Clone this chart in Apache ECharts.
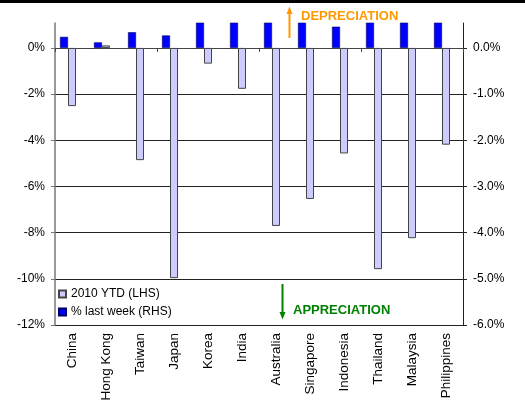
<!DOCTYPE html>
<html>
<head>
<meta charset="utf-8">
<script src="https://cdn.jsdelivr.net/npm/echarts@6/dist/echarts.min.js"></script>
<style>
  html, body { margin: 0; padding: 0; background: #fff; }
  #chart { width: 525px; height: 407px; }
</style>
</head>
<body>
<div id="chart"></div>
<script>
// Asian currencies against the USD, % change
const categories = ['China', 'Hong Kong', 'Taiwan', 'Japan', 'Korea', 'India',
  'Australia', 'Singapore', 'Indonesia', 'Thailand', 'Malaysia', 'Philippines'];
const ytd2010 = [-2.52, 0.11, -4.86, -9.97, -0.68, -1.77, -7.71, -6.54, -4.57, -9.58, -8.24, -4.19];
const lastWeek = [0.24, 0.12, 0.34, 0.27, 0.9, 1.1, 0.8, 1.2, 0.46, 0.7, 1.0, 0.85];
const lhsTicks = [-12, -10, -8, -6, -4, -2, 0];
const rhsTicks = [-6, -5, -4, -3, -2, -1, 0];
const seriesNames = ['2010 YTD (LHS)', '% last week (RHS)'];

const FONT = '"Liberation Sans", Arial, sans-serif';
const chart = echarts.init(document.getElementById('chart'), null, { renderer: 'canvas' });

chart.setOption({
  animation: false,
  backgroundColor: '#ffffff',
  textStyle: { fontFamily: FONT, color: '#000' },
  grid: { left: 55, right: 62, top: 23, bottom: 82, containLabel: false },
  legend: {
    data: seriesNames,
    orient: 'vertical',
    left: 58,
    top: 288,
    padding: 0,
    icon: 'rect',
    itemWidth: 7,
    itemHeight: 7,
    itemGap: 6,
    textStyle: { fontFamily: FONT, fontSize: 12, color: '#000' }
  },
  xAxis: [
    {
      // category names along the bottom
      type: 'category',
      data: categories,
      position: 'bottom',
      axisLine: { show: false, onZero: false },
      axisTick: { show: false },
      axisLabel: { rotate: 90, fontSize: 13.5, margin: 8, color: '#000', fontFamily: FONT }
    },
    {
      // zero line with category separators
      type: 'category',
      data: categories,
      position: 'bottom',
      axisLine: { show: true, onZero: true, onZeroAxisIndex: 0, lineStyle: { color: '#444', width: 1 } },
      axisTick: { show: true, length: 4, lineStyle: { color: '#444' } },
      axisLabel: { show: false },
      splitLine: { show: false }
    }
  ],
  yAxis: [
    {
      type: 'value',
      position: 'left',
      min: -12,
      max: 1.08,
      axisLine: { show: true, lineStyle: { color: '#777', width: 1.5 } },
      axisTick: { show: true, length: 4, customValues: lhsTicks, lineStyle: { color: '#777' } },
      axisLabel: {
        customValues: lhsTicks,
        margin: 10,
        fontSize: 12,
        color: '#000',
        formatter: v => v + '%'
      },
      splitLine: { show: true, showMaxLine: false, lineStyle: { color: '#222', width: 1 } }
    },
    {
      type: 'value',
      position: 'right',
      min: -6,
      max: 0.54,
      axisLine: { show: true, lineStyle: { color: '#222', width: 1 } },
      axisTick: { show: true, length: 4, customValues: rhsTicks, lineStyle: { color: '#222' } },
      axisLabel: {
        customValues: rhsTicks,
        margin: 10,
        fontSize: 12,
        color: '#000',
        formatter: v => v.toFixed(1) + '%'
      },
      splitLine: { show: false }
    }
  ],
  series: [
    {
      name: seriesNames[1],
      type: 'bar',
      xAxisIndex: 0,
      yAxisIndex: 1,
      data: lastWeek,
      barWidth: 8,
      barGap: '0%',
      clip: true,
      itemStyle: { color: '#0000ff', borderColor: '#000060', borderWidth: 0.6 }
    },
    {
      name: seriesNames[0],
      type: 'bar',
      xAxisIndex: 0,
      yAxisIndex: 0,
      data: ytd2010,
      barWidth: 8,
      barGap: '0%',
      clip: true,
      itemStyle: { color: '#ccccff', borderColor: '#444', borderWidth: 1 }
    },
    {
      // empty slot so the YTD bar sits on the category centre
      name: 'gap',
      type: 'bar',
      xAxisIndex: 0,
      yAxisIndex: 0,
      data: [],
      barWidth: 8,
      barGap: '0%'
    }
  ],
  graphic: [
    { type: 'rect', left: 0, top: 0, shape: { x: 0, y: 0, width: 525, height: 3 }, style: { fill: '#000' } },
    // depreciation arrow and note
    { type: 'line', shape: { x1: 289.5, y1: 38, x2: 289.5, y2: 12 }, style: { stroke: '#ff9900', lineWidth: 2 } },
    { type: 'polygon', shape: { points: [[286.5, 14], [292.5, 14], [289.5, 6.5]] }, style: { fill: '#ff9900' } },
    { type: 'text', x: 301, y: 16, style: { text: 'DEPRECIATION', fill: '#ff9900', font: 'bold 13px "Liberation Sans", Arial, sans-serif', verticalAlign: 'middle' } },
    // appreciation arrow and note
    { type: 'line', shape: { x1: 282.5, y1: 284, x2: 282.5, y2: 313 }, style: { stroke: '#008000', lineWidth: 2 } },
    { type: 'polygon', shape: { points: [[279.5, 312], [285.5, 312], [282.5, 319.5]] }, style: { fill: '#008000' } },
    { type: 'text', x: 293, y: 310, style: { text: 'APPRECIATION', fill: '#008000', font: 'bold 13px "Liberation Sans", Arial, sans-serif', verticalAlign: 'middle' } }
  ]
});
</script>
</body>
</html>
